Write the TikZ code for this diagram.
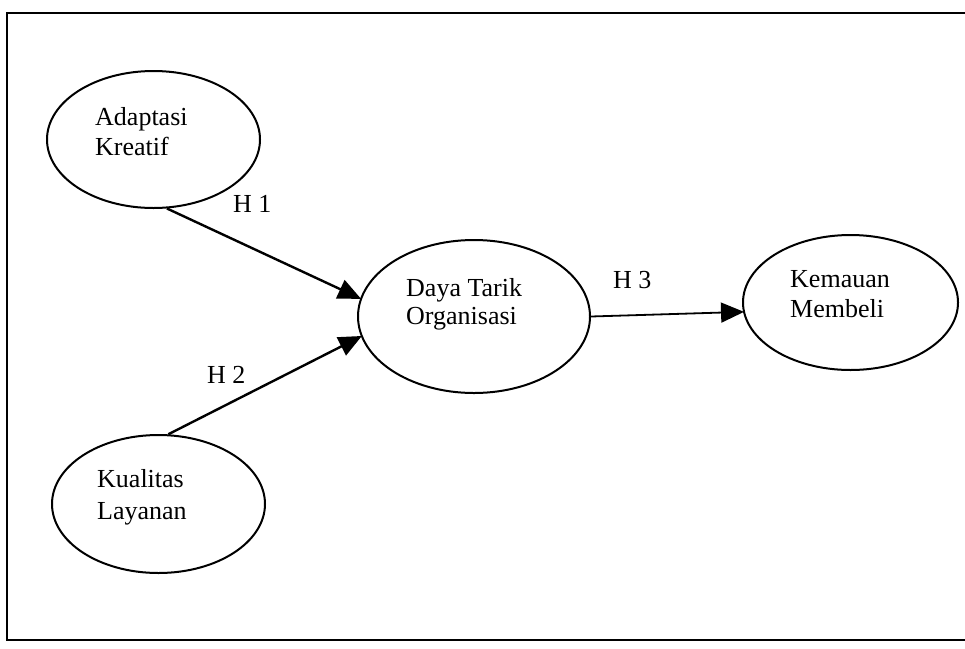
\documentclass[tikz,border=0pt]{standalone}
\usepackage{fontspec}
\setmainfont{Liberation Serif}
\usetikzlibrary{shapes.geometric,arrows.meta}

\begin{document}
\begin{tikzpicture}[x=1pt,y=-1pt,
  oval/.style={draw, ellipse, line width=2pt, inner sep=0pt},
  txt/.style={inner sep=0pt, anchor=base west, font=\fontsize{26}{30}\selectfont},
  link/.style={line width=2.4pt, -{Triangle[length=23pt,width=20pt]}, shorten >=-1pt}
]
\useasboundingbox (0,0) rectangle (965,648);

% outer frame (open on the right side)
\draw[line width=2pt] (966,13) -- (7,13) -- (7,640) -- (966,640);

% constructs
\node[oval, minimum width=213pt, minimum height=137pt] (ak) at (153.5,139.5) {};
\node[oval, minimum width=213pt, minimum height=138pt] (kl) at (158.5,504) {};
\node[oval, minimum width=232pt, minimum height=153pt] (dt) at (474,316.5) {};
\node[oval, minimum width=215pt, minimum height=135pt] (km) at (850.5,302.5) {};

% construct names
\node[txt] (ak1) at (95,125) {Adaptasi};
\node[txt] (ak2) at (95,155) {Kreatif};
\node[txt] (kl1) at (97,487) {Kualitas};
\node[txt] (kl2) at (97,519) {Layanan};
\node[txt] (dt1) at (406,296) {Daya Tarik};
\node[txt] (dt2) at (406,324) {Organisasi};
\node[txt] (km1) at (790,287) {Kemauan};
\node[txt] (km2) at (790,317) {Membeli};

% hypothesised paths
\draw[link] (ak.281) -- (dt.171.5);
\draw[link] (kl.82) -- (dt.190);
\draw[link, line width=1.8pt] (dt.east) -- (km.185);

% path labels
\node[txt] (h1) at (233,212) {H 1};
\node[txt] (h2) at (207,383) {H 2};
\node[txt] (h3) at (613,288) {H 3};
\end{tikzpicture}
\end{document}
